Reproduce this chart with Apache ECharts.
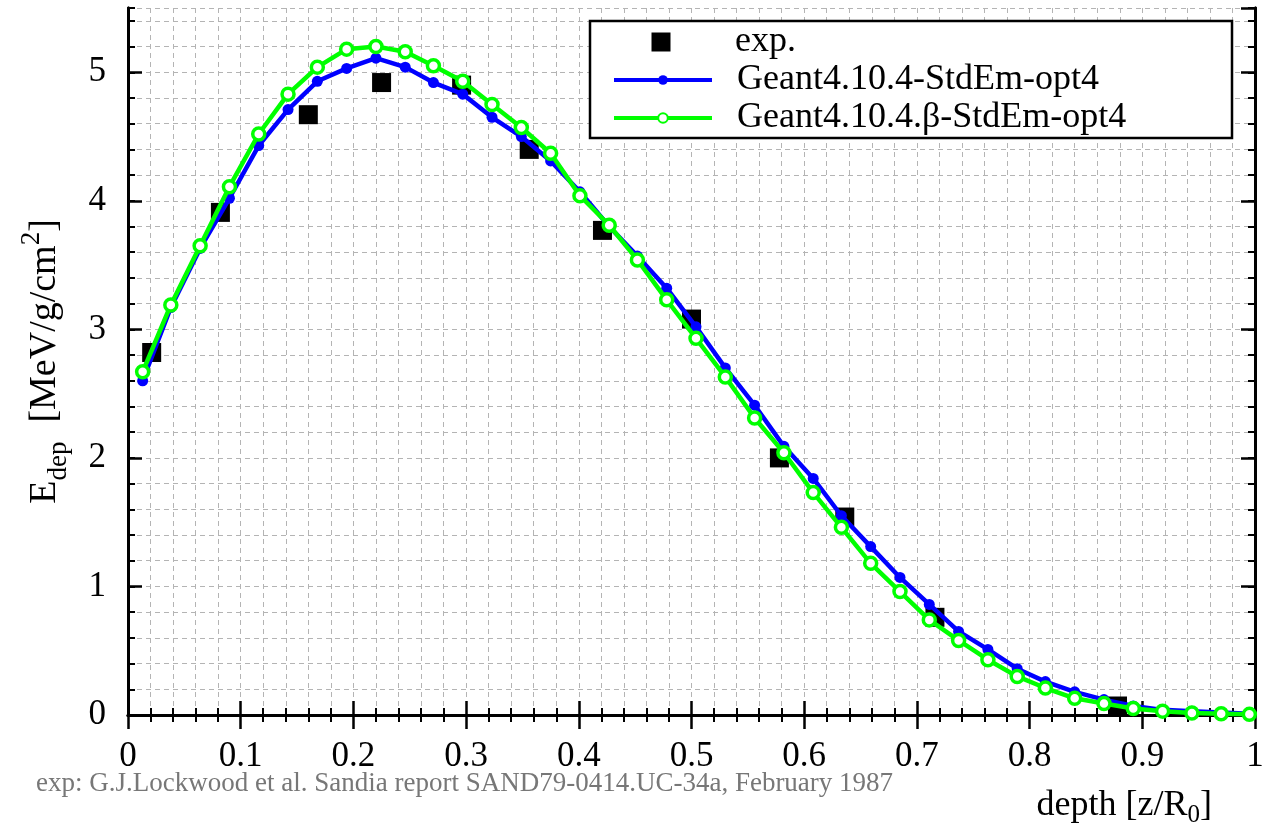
<!DOCTYPE html>
<html>
<head>
<meta charset="utf-8">
<script src="https://cdn.jsdelivr.net/npm/echarts@6/dist/echarts.min.js"></script>
<style>
  html, body { margin: 0; background: #fff; }
  #chart { width: 1264px; height: 833px; }
</style>
</head>
<body>
<div id="chart"></div>
<script>
  // depth bins [z/R0] of the two simulations
  const depth = [0.013, 0.038, 0.064, 0.090, 0.116, 0.142, 0.168, 0.194, 0.220, 0.246,
    0.271, 0.297, 0.323, 0.349, 0.375, 0.401, 0.427, 0.452, 0.478, 0.504,
    0.530, 0.556, 0.582, 0.608, 0.633, 0.659, 0.685, 0.711, 0.737, 0.763,
    0.789, 0.814, 0.840, 0.866, 0.892, 0.918, 0.944, 0.970, 0.995]
  // Geant4.10.4-StdEm-opt4
  const stdEmOpt4 = [2.60, 3.17, 3.63, 4.02, 4.43, 4.71, 4.93, 5.03, 5.11, 5.04,
    4.92, 4.83, 4.65, 4.50, 4.31, 4.07, 3.80, 3.57, 3.32, 3.02,
    2.70, 2.41, 2.09, 1.84, 1.55, 1.31, 1.07, 0.86, 0.65, 0.51,
    0.36, 0.26, 0.18, 0.12, 0.07, 0.04, 0.03, 0.02, 0.01]
  // Geant4.10.4.β-StdEm-opt4
  const betaOpt4 = [2.67, 3.19, 3.65, 4.11, 4.52, 4.83, 5.04, 5.18, 5.20, 5.16,
    5.05, 4.93, 4.75, 4.57, 4.37, 4.04, 3.81, 3.54, 3.23, 2.93,
    2.63, 2.31, 2.04, 1.73, 1.46, 1.18, 0.96, 0.74, 0.58, 0.43,
    0.30, 0.21, 0.13, 0.09, 0.05, 0.03, 0.015, 0.01, 0.005]
  // measurement (Lockwood et al.)
  const expDepth = [0.021, 0.082, 0.160, 0.225, 0.296, 0.356, 0.421, 0.500, 0.578, 0.636, 0.716, 0.878]
  const expEdep = [2.82, 3.91, 4.67, 4.92, 4.90, 4.40, 3.77, 3.08, 2.00, 1.54, 0.76, 0.07]

  const serif = 'Liberation Serif'
  const dashed = { type: [5, 4], color: '#b4b4b4', width: 1 }
  const frame = { lineStyle: { color: '#000', width: 3 } }
  const legendText = { fontFamily: serif, fontSize: 36, color: '#000', lineHeight: 38, padding: [0, 0, 0, 20] }

  function zip(xs, ys) {
    return xs.map(function(x, i) { return [x, ys[i]] })
  }

  const chart = echarts.init(document.getElementById('chart'))
  chart.setOption({
    animation: false,
    backgroundColor: '#fff',
    grid: { left: 128, right: 9, top: 8, bottom: 118, outerBoundsMode: 'none' },
    // two legends (square marker is bigger than the line markers), one frame drawn below
    legend: [{
      orient: 'vertical',
      left: 612,
      top: 23,
      padding: 0,
      itemWidth: 98,
      itemHeight: 19,
      itemGap: 0,
      z: 10,
      textStyle: legendText,
      // square in the middle of a 98 wide box (the two dots only widen the bbox)
      data: [{ name: 'exp.', icon: 'path://M0,9.5L0,9.5M98,9.5L98,9.5M39.5,0h19v19h-19z' }]
    }, {
      orient: 'vertical',
      left: 612,
      top: 61,
      padding: 0,
      itemWidth: 98,
      itemHeight: 12,
      itemGap: 0,
      z: 10,
      lineStyle: { width: 4 },
      textStyle: legendText,
      data: ['Geant4.10.4-StdEm-opt4', 'Geant4.10.4.β-StdEm-opt4']
    }],
    xAxis: [{
      type: 'value', min: 0, max: 1, interval: 0.1, position: 'bottom',
      axisLine: frame,
      axisTick: { inside: true, length: 14, lineStyle: { color: '#000', width: 2.5 } },
      minorTick: { show: true, splitNumber: 5, length: 7, lineStyle: { color: '#000', width: 2 } },
      axisLabel: { fontFamily: serif, fontSize: 35, color: '#000', margin: 24 },
      splitLine: { show: true, lineStyle: dashed },
      minorSplitLine: { show: true, lineStyle: dashed }
    }, {
      type: 'value', min: 0, max: 1, interval: 0.1, position: 'top',
      axisLine: frame,
      axisTick: { inside: true, length: 14, lineStyle: { color: '#000', width: 2.5 } },
      minorTick: { show: true, splitNumber: 5, length: 7, lineStyle: { color: '#000', width: 2 } },
      axisLabel: { show: false },
      splitLine: { show: false }
    }],
    yAxis: [{
      type: 'value', min: 0, max: 5.5, interval: 1, position: 'left',
      axisLine: frame,
      axisTick: { inside: true, length: 14, lineStyle: { color: '#000', width: 2.5 } },
      axisLabel: { fontFamily: serif, fontSize: 35, color: '#000', margin: 22, showMaxLabel: false },
      splitLine: { show: false },
      name: '{n|E}{s|dep}{n|  [MeV/g/cm}{p|2}{n|]}',
      nameLocation: 'middle',
      nameRotate: 90,
      nameGap: 56,
      nameMoveOverlap: false,
      nameTextStyle: {
        fontFamily: serif, color: '#000',
        rich: {
          n: { fontFamily: serif, fontSize: 38, color: '#000', lineHeight: 54 },
          s: { fontFamily: serif, fontSize: 27, color: '#000', lineHeight: 26, verticalAlign: 'bottom' },
          p: { fontFamily: serif, fontSize: 27, color: '#000', lineHeight: 26, verticalAlign: 'top' }
        }
      }
    }, {
      type: 'value', min: 0, max: 5.5, interval: 0.2, position: 'left',
      axisLine: frame,
      axisTick: { inside: true, length: 7, lineStyle: { color: '#000', width: 2 } },
      axisLabel: { show: false },
      splitLine: { show: true, lineStyle: dashed }
    }, {
      type: 'value', min: 0, max: 5.5, interval: 1, position: 'right',
      axisLine: frame,
      axisTick: { inside: true, length: 14, lineStyle: { color: '#000', width: 2.5 } },
      axisLabel: { show: false },
      splitLine: { show: false }
    }, {
      type: 'value', min: 0, max: 5.5, interval: 0.2, position: 'right',
      axisLine: frame,
      axisTick: { inside: true, length: 7, lineStyle: { color: '#000', width: 2 } },
      axisLabel: { show: false },
      splitLine: { show: false }
    }],
    series: [{
      name: 'exp.',
      type: 'scatter',
      symbol: 'rect',
      symbolSize: 19,
      itemStyle: { color: '#000', opacity: 1 },
      data: zip(expDepth, expEdep),
      z: 2
    }, {
      name: 'Geant4.10.4-StdEm-opt4',
      type: 'line',
      symbol: 'circle',
      symbolSize: 11,
      itemStyle: { color: '#0000ff' },
      lineStyle: { color: '#0000ff', width: 4.5 },
      data: zip(depth, stdEmOpt4),
      z: 3
    }, {
      name: 'Geant4.10.4.β-StdEm-opt4',
      type: 'line',
      symbol: 'circle',
      symbolSize: 12,
      itemStyle: { color: '#fff', borderColor: '#00ff00', borderWidth: 3.5 },
      lineStyle: { color: '#00ff00', width: 4.5 },
      data: zip(depth, betaOpt4),
      z: 4
    }],
    graphic: [{
      type: 'rect',
      z: 5,
      shape: { x: 590, y: 21, width: 642, height: 117 },
      style: { fill: '#fff', stroke: '#000', lineWidth: 2.5 }
    }, {
      type: 'text',
      left: 36,
      top: 770,
      style: {
        text: 'exp: G.J.Lockwood et al. Sandia report SAND79-0414.UC-34a, February 1987',
        fontFamily: serif, fontSize: 27, fill: '#777'
      }
    }, {
      type: 'text',
      right: 52,
      top: 788,
      style: {
        text: '{n|depth [z/R}{s|0}{n|]}',
        rich: {
          n: { fontFamily: serif, fontSize: 36, fill: '#000', lineHeight: 44 },
          s: { fontFamily: serif, fontSize: 25, fill: '#000', lineHeight: 22, verticalAlign: 'bottom' }
        }
      }
    }]
  })
</script>
</body>
</html>
